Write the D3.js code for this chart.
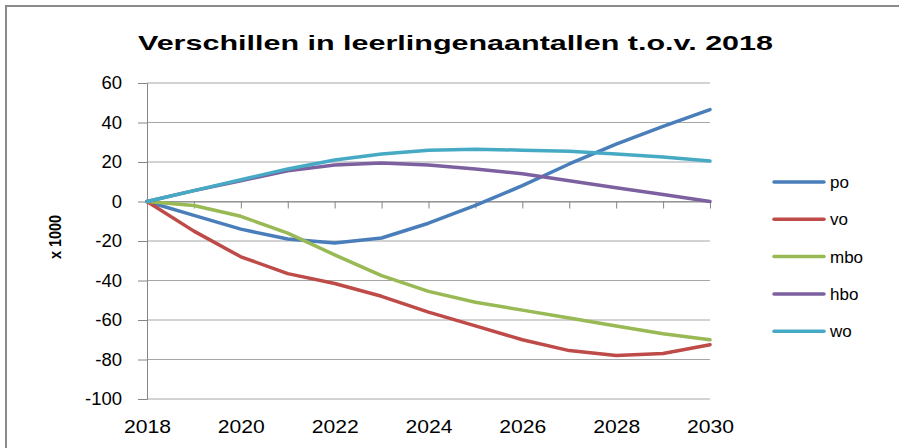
<!DOCTYPE html>
<html>
<head>
<meta charset="utf-8">
<script src="https://cdn.jsdelivr.net/npm/d3@7"></script>
<style>
  body { margin: 0; background: #fff; }
  svg text { font-family: "Liberation Sans", Arial, sans-serif; fill: #000; }
</style>
</head>
<body>
<svg></svg>
<script>
var years = [2018, 2019, 2020, 2021, 2022, 2023, 2024, 2025, 2026, 2027, 2028, 2029, 2030]
var yearLabels = [2018, 2020, 2022, 2024, 2026, 2028, 2030]
var yTicks = [-100, -80, -60, -40, -20, 0, 20, 40, 60]

var po  = [0, -7, -14, -19, -21, -18.5, -11, -2, 8, 19, 29, 38, 46.5]
var vo  = [0, -15, -28, -36.5, -41.5, -48, -56, -63, -70, -75.5, -78, -77, -72.5]
var mbo = [0, -2, -7.5, -16, -27, -37.5, -45.5, -51, -55, -59, -63, -67, -70]
var hbo = [0, 5.5, 10.5, 15.5, 18.5, 19.5, 18.5, 16.5, 14, 10.5, 7, 3.5, 0]
var wo  = [0, 5.5, 11, 16.5, 21, 24, 26, 26.5, 26, 25.5, 24, 22.5, 20.5]

var seriesNames = ["po", "vo", "mbo", "hbo", "wo"]
var seriesColors = ["#4a7ebb", "#be4b48", "#98b954", "#7d60a0", "#46aac5"]

var screen = {width: 899, height: 448}
var plot = {left: 147, right: 710, top: 83, bottom: 399}

var svg = d3.select("svg")
    .attr("width", screen.width)
    .attr("height", screen.height)

// chart frame
svg.append("rect")
    .attr("x", 6).attr("y", 6)
    .attr("width", 920).attr("height", 460)
    .attr("fill", "#fff")
    .attr("stroke", "#8a8a8a")
    .attr("stroke-width", 2)

var xScale = d3.scaleLinear()
    .domain([2018, 2030])
    .range([plot.left, plot.right])
var yScale = d3.scaleLinear()
    .domain([-100, 60])
    .range([plot.bottom, plot.top])

// gridlines
svg.append("g")
    .selectAll("line")
    .data(yTicks)
    .enter()
    .append("line")
    .attr("x1", plot.left)
    .attr("x2", plot.right)
    .attr("y1", function(d){ return yScale(d) })
    .attr("y2", function(d){ return yScale(d) })
    .attr("stroke", "#a6a6a6")
    .attr("stroke-width", 1)

// y axis
var yAxis = d3.axisLeft(yScale)
    .tickValues(yTicks)
    .tickSize(9)
    .tickPadding(16)
    .tickFormat(function(d){ return String(d) })
svg.append("g")
    .attr("id", "yAxis")
    .attr("transform", "translate(" + plot.left + ",0)")
    .call(yAxis)

// x axis line at zero, ticks each year
var xAxis = d3.axisBottom(xScale)
    .tickValues(years)
    .tickSize(7)
    .tickFormat("")
    .tickSizeOuter(0)
svg.append("g")
    .attr("id", "xAxis")
    .attr("transform", "translate(0," + yScale(0) + ")")
    .call(xAxis)

// x labels at the bottom of the plot
var xLabels = d3.axisBottom(xScale)
    .tickValues(yearLabels)
    .tickSize(0)
    .tickPadding(21)
    .tickFormat(function(d){ return String(d) })
svg.append("g")
    .attr("id", "xLabels")
    .attr("transform", "translate(0," + plot.bottom + ")")
    .call(xLabels)
    .call(function(g){ g.select(".domain").remove() })

svg.selectAll("#yAxis path, #yAxis line, #xAxis path, #xAxis line")
    .attr("stroke", "#868686")
svg.selectAll("#yAxis text, #xLabels text")
    .attr("font-size", 18.5)
    .attr("font-family", "Liberation Sans, Arial, sans-serif")
    .attr("fill", "#000")
svg.selectAll("#xLabels text")
    .attr("textLength", 47)
    .attr("lengthAdjust", "spacingAndGlyphs")

// lines
var allSeries = [po, vo, mbo, hbo, wo]
var line = d3.line()
    .x(function(d, i){ return xScale(years[i]) })
    .y(function(d){ return yScale(d) })

svg.append("g")
    .selectAll("path")
    .data(allSeries)
    .enter()
    .append("path")
    .attr("d", line)
    .attr("fill", "none")
    .attr("stroke", function(d, i){ return seriesColors[i] })
    .attr("stroke-width", 3.5)
    .attr("stroke-linejoin", "round")
    .attr("stroke-linecap", "round")

// title
svg.append("text")
    .attr("x", 138)
    .attr("y", 50)
    .attr("font-size", 21)
    .attr("font-weight", "bold")
    .attr("textLength", 635)
    .attr("lengthAdjust", "spacingAndGlyphs")
    .text("Verschillen in leerlingenaantallen t.o.v. 2018")

// y axis title
svg.append("text")
    .attr("transform", "translate(61,237) rotate(-90)")
    .attr("text-anchor", "middle")
    .attr("font-size", 16)
    .attr("font-weight", "bold")
    .attr("textLength", 44)
    .attr("lengthAdjust", "spacingAndGlyphs")
    .text("x 1000")

// legend
var legend = svg.append("g")
    .selectAll("g")
    .data(seriesNames)
    .enter()
    .append("g")
    .attr("transform", function(d, i){ return "translate(0," + (182 + i * 37.3) + ")" })
legend.append("line")
    .attr("x1", 774).attr("x2", 824)
    .attr("stroke", function(d, i){ return seriesColors[i] })
    .attr("stroke-width", 3.5)
    .attr("stroke-linecap", "round")
legend.append("text")
    .attr("x", 830)
    .attr("y", 6)
    .attr("font-size", 17)
    .text(function(d){ return d })
</script>
</body>
</html>
